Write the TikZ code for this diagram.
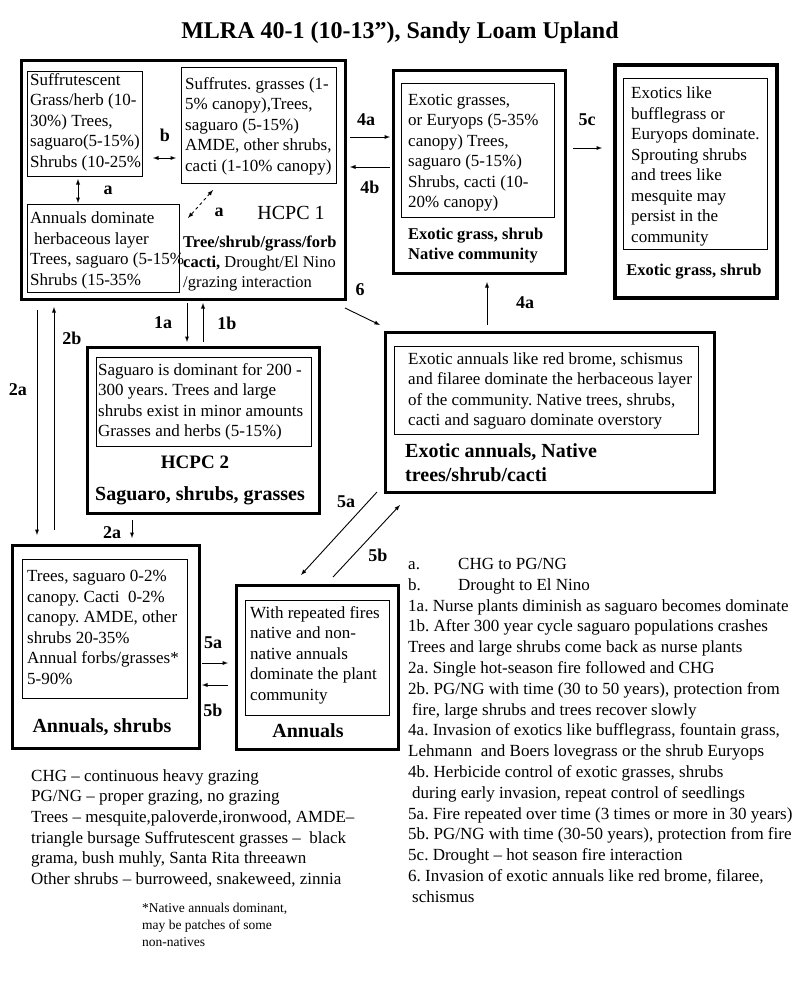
\documentclass[tikz,border=0pt]{standalone}
\usepackage{fontspec}
\setmainfont{Liberation Serif}
\frenchspacing
\begin{document}
\begin{tikzpicture}[x=1pt,y=-1pt,
  statebox/.style={draw,line width=3pt,inner sep=0pt,outer sep=0pt,anchor=north west},
  textbox/.style={draw,line width=0.9pt,inner sep=0pt,outer sep=0pt,anchor=north west},
  txt/.style={anchor=north west,align=left,inner sep=0pt,font=\fontsize{17}{20.5}\selectfont},
  lbl/.style={inner sep=0pt,font=\fontsize{18}{20}\selectfont\bfseries},
  big/.style={inner sep=0pt,font=\fontsize{20}{24}\selectfont\bfseries},
  arr/.style={-latex,line width=0.9pt},
  dbl/.style={latex-latex,line width=0.9pt}]
\useasboundingbox (0,0) rectangle (800,985);

\node[font=\fontsize{24}{28}\selectfont\bfseries] (title) at (400,33) {MLRA 40-1 (10-13”), Sandy Loam Upland};

\node[statebox,minimum width=324pt,minimum height=239pt] (hcpc1) at (21,60) {};
\node[textbox,minimum width=115pt,minimum height=105pt] (suff) at (27,71) {};
\node[txt] (sufftxt) at (30,73) {Suffrutescent\\Grass/herb (10-\\30\%) Trees,\\saguaro(5-15\%)\\Shrubs (10-25\%};
\node[textbox,minimum width=155pt,minimum height=116pt] (suffg) at (181,67) {};
\node[txt] (suffgtxt) at (185,77) {Suffrutes. grasses (1-\\5\% canopy),Trees,\\saguaro (5-15\%)\\AMDE, other shrubs,\\cacti (1-10\% canopy)};
\node[textbox,minimum width=152pt,minimum height=88pt] (annd) at (27,204) {};
\node[txt] (anndtxt) at (30,212) {Annuals dominate\\\hspace{4pt}herbaceous layer\\Trees, saguaro (5-15\%\\Shrubs (15-35\%};
\node[font=\fontsize{20}{24}\selectfont] (hcpc1lbl) at (291,213) {HCPC 1};
\node[txt,font=\fontsize{16.5}{20}\selectfont] (hcpc1desc) at (183,236) {\textbf{Tree/shrub/grass/forb}\\\textbf{cacti,} Drought/El Nino\\/grazing interaction};

\coordinate (bL) at (153,158);
\coordinate (bR) at (176,158);
\draw[dbl] (bL) -- (bR);
\node[lbl] (lb) at (165,135) {b};
\coordinate (aT) at (78,179);
\coordinate (aB) at (78,203);
\draw[dbl] (aT) -- (aB);
\node[lbl] (la) at (108,190) {a};
\coordinate (dA) at (213,190);
\coordinate (dB) at (188,218);
\draw[dbl,dashed] (dA) -- (dB);
\node[lbl] (lad) at (219,212) {a};

\node[statebox,minimum width=172pt,minimum height=203pt] (exnat) at (393,70) {};
\node[textbox,minimum width=153pt,minimum height=134pt] (exnatbox) at (401,83) {};
\node[txt] (exnattxt) at (408,94) {Exotic grasses,\\or Euryops (5-35\%\\canopy) Trees,\\saguaro (5-15\%)\\Shrubs, cacti (10-\\20\% canopy)};
\node[txt,font=\fontsize{16.5}{20}\selectfont\bfseries] (exnatlbl) at (408,228) {Exotic grass, shrub\\Native community};

\node[statebox,line width=3.5pt,minimum width=162pt,minimum height=233pt] (exgr) at (615,65) {};
\node[textbox,minimum width=144pt,minimum height=171pt] (exgrbox) at (623,78) {};
\node[txt] (exgrtxt) at (631,87) {Exotics like\\bufflegrass or\\Euryops dominate.\\Sprouting shrubs\\and trees like\\mesquite may\\persist in the\\community};
\node[font=\fontsize{16.5}{20}\selectfont\bfseries] (exgrlbl) at (694,272) {Exotic grass, shrub};

\node[statebox,minimum width=329pt,minimum height=160pt] (exann) at (385,332) {};
\node[textbox,minimum width=304pt,minimum height=88pt] (exannbox) at (394,346) {};
\node[txt] (exanntxt) at (408,352) {Exotic annuals like red brome, schismus\\and filaree dominate the herbaceous layer\\of the community. Native trees, shrubs,\\cacti and saguaro dominate overstory};
\node[txt,font=\fontsize{20}{24}\selectfont\bfseries] (exannlbl) at (405,443) {Exotic annuals, Native\\trees/shrub/cacti};

\node[statebox,minimum width=232pt,minimum height=166pt] (hcpc2) at (87,347) {};
\node[textbox,minimum width=215pt,minimum height=89pt] (sagbox) at (96,357) {};
\node[txt] (sagtxt) at (98,363) {Saguaro is dominant for 200 -\\300 years. Trees and large\\shrubs exist in minor amounts\\Grasses and herbs (5-15\%)};
\node[font=\fontsize{19}{22}\selectfont\bfseries] (hcpc2lbl) at (195,462) {HCPC 2};
\node[big] (hcpc2desc) at (200,496) {Saguaro, shrubs, grasses};

\node[statebox,minimum width=187pt,minimum height=203pt] (annsh) at (12,545) {};
\node[textbox,minimum width=165pt,minimum height=139pt] (annshbox) at (22,559) {};
\node[txt] (annshtxt) at (27,570) {Trees, saguaro 0-2\%\\canopy. Cacti\ \ 0-2\%\\canopy. AMDE, other\\shrubs 20-35\%\\Annual forbs/grasses*\\5-90\%};
\node[big] (annshlbl) at (102,727) {Annuals, shrubs};

\node[statebox,minimum width=162pt,minimum height=164pt] (ann) at (236,585) {};
\node[textbox,minimum width=144pt,minimum height=115pt] (annbox) at (245,600) {};
\node[txt] (anntxt) at (250,606) {With repeated fires\\native and non-\\native annuals\\dominate the plant\\community};
\node[big] (annlbl) at (308,731) {Annuals};

\coordinate (p4aL) at (350,137);
\coordinate (p4aR) at (390,137);
\draw[arr] (p4aL) -- (p4aR);
\node[lbl] (l4a) at (366,120) {4a};
\coordinate (p4bR) at (390,167);
\coordinate (p4bL) at (350,167);
\draw[arr] (p4bR) -- (p4bL);
\node[lbl] (l4b) at (370,187) {4b};
\coordinate (p5cL) at (573,148);
\coordinate (p5cR) at (602,148);
\draw[arr] (p5cL) -- (p5cR);
\node[lbl] (l5c) at (587,120) {5c};
\coordinate (p6a) at (345,308);
\coordinate (p6b) at (380,325);
\draw[arr] (p6a) -- (p6b);
\node[lbl] (l6) at (360,290) {6};
\coordinate (p4vB) at (487,325);
\coordinate (p4vT) at (487,282);
\draw[arr] (p4vB) -- (p4vT);
\node[lbl] (l4v) at (525,303) {4a};

\coordinate (p1aT) at (187,303);
\coordinate (p1aB) at (187,342);
\draw[arr] (p1aT) -- (p1aB);
\node[lbl] (l1a) at (163,323) {1a};
\coordinate (p1bB) at (203,342);
\coordinate (p1bT) at (203,303);
\draw[arr] (p1bB) -- (p1bT);
\node[lbl] (l1b) at (227,323) {1b};
\coordinate (p2aT) at (37,310);
\coordinate (p2aB) at (37,535);
\draw[arr] (p2aT) -- (p2aB);
\node[lbl] (l2a) at (18,390) {2a};
\coordinate (p2bB) at (54,530);
\coordinate (p2bT) at (54,307);
\draw[arr] (p2bB) -- (p2bT);
\node[lbl] (l2b) at (72,338) {2b};
\coordinate (p2sT) at (132,520);
\coordinate (p2sB) at (132,538);
\draw[arr] (p2sT) -- (p2sB);
\node[lbl] (l2s) at (112,533) {2a};

\coordinate (p5aT) at (377,492);
\coordinate (p5aB) at (301,575);
\draw[arr] (p5aT) -- (p5aB);
\node[lbl] (l5a) at (346,502) {5a};
\coordinate (p5bB) at (333,577);
\coordinate (p5bT) at (400,505);
\draw[arr] (p5bB) -- (p5bT);
\node[lbl] (l5b) at (378,555) {5b};
\coordinate (p5hL) at (202,663);
\coordinate (p5hR) at (228,663);
\draw[arr] (p5hL) -- (p5hR);
\node[lbl] (l5h) at (213,643) {5a};
\coordinate (p5gR) at (228,685);
\coordinate (p5gL) at (202,685);
\draw[arr] (p5gR) -- (p5gL);
\node[lbl] (l5g) at (213,710) {5b};

\node[txt,font=\fontsize{17}{20.8}\selectfont] (key) at (408,558) {\makebox[50pt][l]{a.}CHG to PG/NG\\\makebox[50pt][l]{b.}Drought to El Nino\\1a. Nurse plants diminish as saguaro becomes dominate\\1b. After 300 year cycle saguaro populations crashes\\Trees and large shrubs come back as nurse plants\\2a. Single hot-season fire followed and CHG\\2b. PG/NG with time (30 to 50 years), protection from\\\hspace{4pt}fire, large shrubs and trees recover slowly\\4a. Invasion of exotics like bufflegrass, fountain grass,\\Lehmann\ \ and Boers lovegrass or the shrub Euryops\\4b. Herbicide control of exotic grasses, shrubs\\\hspace{4pt}during early invasion, repeat control of seedlings\\5a. Fire repeated over time (3 times or more in 30 years)\\5b. PG/NG with time (30-50 years), protection from fire\\5c. Drought – hot season fire interaction\\6. Invasion of exotic annuals like red brome, filaree,\\\hspace{4pt}schismus};

\node[txt,font=\fontsize{17}{20.7}\selectfont] (abbr) at (31,769) {CHG – continuous heavy grazing\\PG/NG – proper grazing, no grazing\\Trees – mesquite,paloverde,ironwood, AMDE–\\triangle bursage Suffrutescent grasses –\ \ black\\grama, bush muhly, Santa Rita threeawn\\Other shrubs – burroweed, snakeweed, zinnia};
\node[txt,font=\fontsize{13.5}{17}\selectfont] (note) at (142,903) {*Native annuals dominant,\\may be patches of some\\non-natives};
\end{tikzpicture}
\end{document}
